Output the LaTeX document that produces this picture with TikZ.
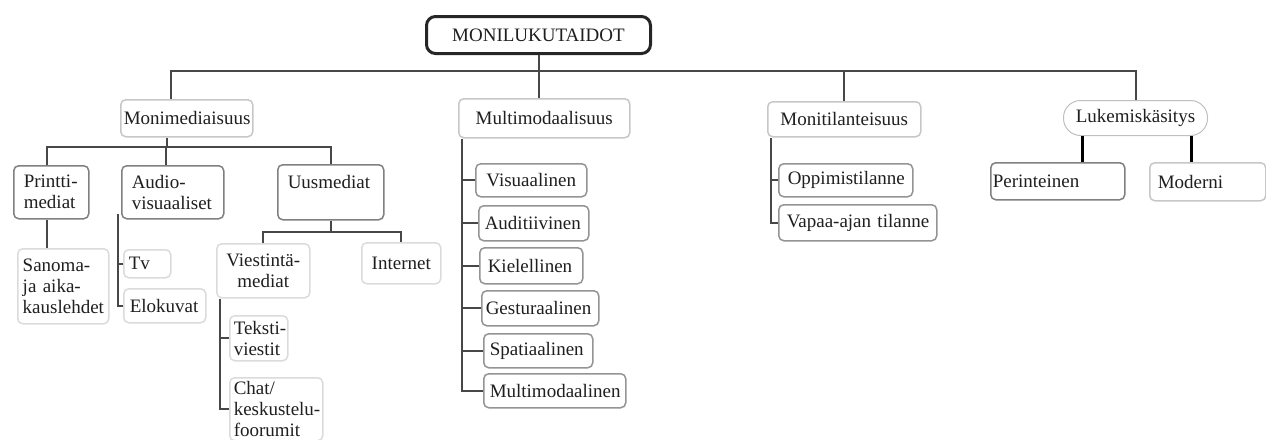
\documentclass[tikz,border=0pt]{standalone}
\usepackage{fontspec}
\setmainfont{Liberation Serif}
\hyphenpenalty=10000
\exhyphenpenalty=10000
\tikzset{
  conn/.style={draw=black!72, line width=2pt},
  lkconn/.style={draw=black, line width=3.5pt},
  box/.style={draw, fill=white, rounded corners=5pt, line width=1.5pt, text=black!88,
    inner ysep=0pt, align=left,
    font=\fontsize{19}{21}\selectfont},
  topbox/.style={box, draw=black!85, line width=3pt, rounded corners=9pt},
  darkbox/.style={box, draw=black!50},
  midbox/.style={box, draw=black!42},
  lightbox/.style={box, draw=black!22},
  faintbox/.style={box, draw=black!14},
  pillbox/.style={box, draw=black!25, line width=1pt, rounded corners=17pt},
}
% [opts]{style}{name}{x1}{y1}{x2}{y2}{pad}{text}
\newcommand\bx[9][]{%
  \pgfmathsetmacro\bxtw{#6-#4-2*#8}%
  \pgfmathsetmacro\bxw{#6-#4}%
  \pgfmathsetmacro\bxh{#7-#5}%
  \node[#2, anchor=north west, inner xsep=#8pt, text width=\bxtw pt,
        minimum width=\bxw pt, minimum height=\bxh pt, #1] (#3) at (#4,#5) {#9};%
}
\begin{document}
\begin{tikzpicture}[x=1pt, y=-1pt]
\useasboundingbox (0,0) rectangle (1266,439);

% top level
\bx[align=center]{topbox}{top}{425}{15}{649}{52}{6}{MONILUKUTAIDOT}
\bx[align=center]{lightbox}{mm}{120}{99}{252}{136}{3}{Monimediaisuus}
\bx[align=center]{lightbox}{mult}{458}{98}{629}{137}{4}{Multimodaalisuus}
\bx[align=center]{lightbox}{mt}{767}{101}{920}{136}{4}{Monitilanteisuus}
\bx[align=center]{pillbox}{lk}{1063}{100}{1207}{135}{4}{Lukemiskäsitys}

% Monimediaisuus subtree
\bx{darkbox}{pm}{13}{165}{88}{218}{10}{Printti-\\mediat}
\bx{darkbox}{av}{121}{165}{223}{218}{10}{Audio-\\visuaaliset}
\bx{darkbox}{um}{277}{164}{383}{219}{10}{Uusmediat\\~}
\bx{faintbox}{sn}{17}{248}{108}{323}{5}{Sanoma-\\ja~aika-\\kauslehdet}
\bx{faintbox}{tv}{123}{249}{170}{277}{5}{Tv}
\bx{faintbox}{el}{123}{288}{205}{322}{6}{Elokuvat}
\bx[align=center]{faintbox}{vm}{216}{243}{309}{297}{4}{Viestintä-\\mediat}
\bx[align=center]{faintbox}{in}{361}{242}{440}{283}{4}{Internet}
\bx{faintbox}{tk}{229}{315}{287}{360}{4}{Teksti-\\viestit}
\bx{faintbox}{ch}{229}{377}{322}{440}{4}{Chat/\\keskustelu-\\foorumit}

% Multimodaalisuus subtree
\bx[align=center]{midbox}{c1}{475}{163}{586}{196}{4}{Visuaalinen}
\bx{midbox}{c2}{478}{205}{588}{240}{6}{Auditiivinen}
\bx{midbox}{c3}{479}{247}{582}{283}{8}{Kielellinen}
\bx{midbox}{c4}{481}{290}{598}{325}{4}{Gesturaalinen}
\bx{midbox}{c5}{483}{333}{592}{367}{6}{Spatiaalinen}
\bx{midbox}{c6}{483}{373}{625}{407}{6}{Multimodaalinen}

% Monitilanteisuus subtree
\bx{midbox}{o1}{778}{163}{912}{196}{9}{Oppimistilanne}
\bx{midbox}{o2}{778}{204}{936}{240}{8}{Vapaa-ajan~tilanne}

% Lukemiskasitys subtree
\bx{darkbox}{pe}{990}{162}{1124}{199}{2}{Perinteinen}
\bx{lightbox}{mo}{1149}{162}{1265}{200}{8}{Moderni}

% connectors
\coordinate (bus) at (0,71);
\coordinate (bus2) at (0,147);
\coordinate (bus3) at (0,232);

\draw[conn] ([xshift=-16pt]mm.north) |- (bus -| lk.north) -- (lk.north);
\draw[conn] (top.south) -- (top.south |- mult.north);
\draw[conn] (mt.north) -- (mt.north |- bus);

\draw[conn] ([xshift=-20pt]mm.south) -- ([xshift=-20pt]mm.south |- bus2);
\draw[conn] ([xshift=-4pt]pm.north) |- (bus2 -| um.north) -- (um.north);
\draw[conn] ([xshift=-7pt]av.north) -- ([xshift=-7pt]av.north |- bus2);
\draw[conn] ([xshift=-4pt]pm.south) -- ([xshift=-4pt]pm.south |- sn.north);

\draw[conn] ([xshift=-3pt,yshift=6pt]av.south west) |- (el.west);
\draw[conn] (tv.west) -- ([xshift=-3pt]av.south west |- tv.west);

\draw[conn] (um.south) -- (um.south |- bus3);
\draw[conn] (vm.north) |- (bus3 -| in.north) -- (in.north);

\draw[conn] ([xshift=4pt]vm.south west) |- (ch.west);
\draw[conn] (tk.west) -- ([xshift=4pt]vm.south west |- tk.west);

\draw[conn] ([xshift=4pt]mult.south west) |- (c6.west);
\foreach \n in {c1,c2,c3,c4,c5}
  \draw[conn] (\n.west) -- ([xshift=4pt]mult.south west |- \n.west);

\draw[conn] ([xshift=4pt]mt.south west) |- (o2.west);
\draw[conn] (o1.west) -- ([xshift=4pt]mt.south west |- o1.west);

\draw[lkconn] ([xshift=-53pt]lk.south) -- ([xshift=-53pt]lk.south |- pe.north);
\draw[lkconn] ([xshift=56pt]lk.south) -- ([xshift=56pt]lk.south |- mo.north);
\end{tikzpicture}
\end{document}
